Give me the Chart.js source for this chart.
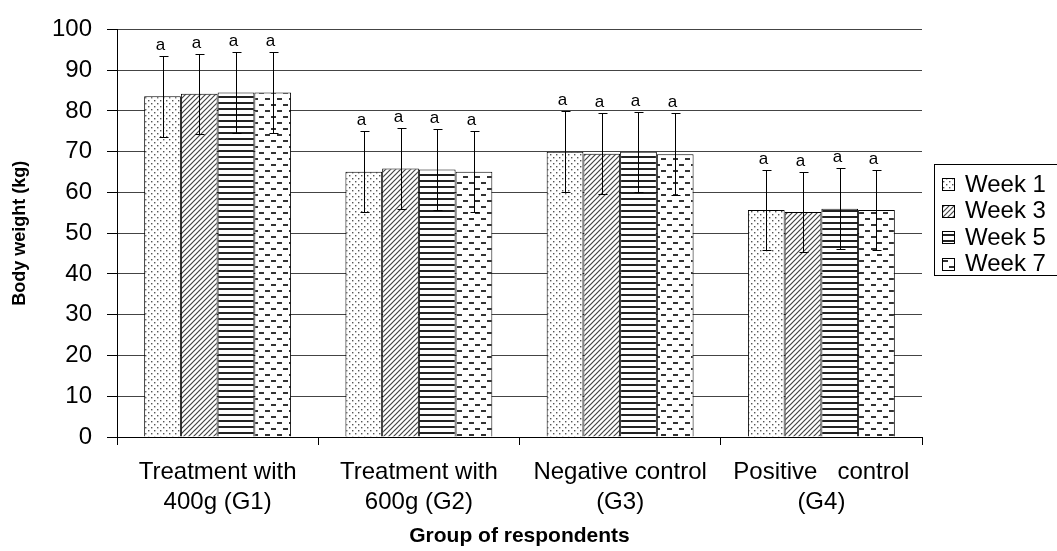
<!DOCTYPE html>
<html>
<head>
<meta charset="utf-8">
<script src="https://cdn.jsdelivr.net/npm/chart.js@4.4.0/dist/chart.umd.min.js"></script>
<style>
  html, body { margin: 0; padding: 0; background: #fff; }
  #wrap { width: 1057px; height: 551px; }
</style>
</head>
<body>
<div id="wrap"><canvas id="weightChart" width="1057" height="551"></canvas></div>
<script>
const categories = [
  ['Treatment with', '400g (G1)'],
  ['Treatment with', '600g (G2)'],
  ['Negative control', '(G3)'],
  ['Positive   control', '(G4)']
];
const weekNames = ['Week 1', 'Week 3', 'Week 5', 'Week 7'];
const week1 = [83.6, 65.1, 70.0, 55.7];
const week3 = [84.2, 65.9, 69.5, 55.2];
const week5 = [84.5, 65.6, 70.0, 56.0];
const week7 = [84.5, 65.1, 69.4, 55.7];
const sd1 = [9.9, 9.9, 9.9, 9.9];
const sd3 = [9.8, 9.9, 9.9, 9.9];
const sd5 = [9.9, 10.0, 9.8, 9.9];
const sd7 = [9.9, 9.9, 10.0, 9.9];
const sigLetters = ['a', 'a', 'a', 'a'];
const yTicks = [0, 10, 20, 30, 40, 50, 60, 70, 80, 90, 100];

const FONT = "'Liberation Sans', Arial, sans-serif";

// small tiles for the black & white fills
function makePattern(kind) {
  const c = document.createElement('canvas');
  const g = c.getContext('2d');
  if (kind === 'dots') {
    c.width = 6; c.height = 6;
    g.fillStyle = '#fff'; g.fillRect(0, 0, 6, 6);
    g.fillStyle = '#555';
    g.fillRect(1, 1, 1.4, 1.4);
    g.fillRect(4, 4, 1.4, 1.4);
  } else if (kind === 'diag') {
    c.width = 5; c.height = 5;
    g.fillStyle = '#fff'; g.fillRect(0, 0, 5, 5);
    g.strokeStyle = '#444'; g.lineWidth = 1.2;
    g.beginPath();
    g.moveTo(-1, 6); g.lineTo(6, -1);
    g.moveTo(-1, 1); g.lineTo(1, -1);
    g.moveTo(4, 6); g.lineTo(6, 4);
    g.stroke();
  } else if (kind === 'hlines') {
    c.width = 4; c.height = 6;
    g.fillStyle = '#fff'; g.fillRect(0, 0, 4, 6);
    g.fillStyle = '#222';
    g.fillRect(0, 0, 4, 2);
  } else {
    c.width = 12; c.height = 12;
    g.fillStyle = '#fff'; g.fillRect(0, 0, 12, 12);
    g.fillStyle = '#333';
    g.fillRect(1, 2, 5, 2);
    g.fillRect(7, 8, 5, 2);
  }
  return document.getElementById('weightChart').getContext('2d').createPattern(c, 'repeat');
}

const fills = [makePattern('dots'), makePattern('diag'), makePattern('hlines'), makePattern('dashes')];
const seriesValues = [week1, week3, week5, week7];
const seriesSd = [sd1, sd3, sd5, sd7];

const errorBars = {
  id: 'errorBars',
  afterDatasetsDraw(chart) {
    const ctx = chart.ctx;
    const y = chart.scales.y;
    ctx.save();
    ctx.strokeStyle = '#000';
    ctx.lineWidth = 1;
    ctx.fillStyle = '#000';
    ctx.font = '17px ' + FONT;
    ctx.textAlign = 'center';
    ctx.textBaseline = 'alphabetic';
    chart.data.datasets.forEach((ds, i) => {
      const meta = chart.getDatasetMeta(i);
      meta.data.forEach((bar, j) => {
        const v = ds.data[j];
        const sd = seriesSd[i][j];
        const top = Math.round(y.getPixelForValue(v + sd)) + 0.5;
        const bot = Math.round(y.getPixelForValue(v - sd)) + 0.5;
        const x = Math.round(bar.x) + 0.5;
        ctx.beginPath();
        ctx.moveTo(x, top); ctx.lineTo(x, bot);
        ctx.moveTo(x - 4, top); ctx.lineTo(x + 5, top);
        ctx.moveTo(x - 4, bot); ctx.lineTo(x + 5, bot);
        ctx.stroke();
        ctx.fillText(sigLetters[j], x - 3, top - 7);
      });
    });
    ctx.restore();
  }
};

const boxLegend = {
  id: 'boxLegend',
  afterDraw(chart) {
    const ctx = chart.ctx;
    ctx.save();
    ctx.strokeStyle = '#000';
    ctx.lineWidth = 1;
    ctx.strokeRect(934.5, 164.5, 130, 111);
    ctx.font = '24px ' + FONT;
    ctx.textBaseline = 'middle';
    ctx.textAlign = 'left';
    weekNames.forEach((name, i) => {
      const cy = 184 + i * 26.5;
      ctx.fillStyle = fills[i];
      ctx.fillRect(942, Math.round(cy - 6), 12, 12);
      ctx.strokeRect(942.5, Math.round(cy - 6) + 0.5, 12, 12);
      ctx.fillStyle = '#000';
      ctx.fillText(name, 965, cy + 1);
    });
    ctx.restore();
  }
};

const chart = new Chart(document.getElementById('weightChart'), {
  type: 'bar',
  data: {
    labels: categories,
    datasets: seriesValues.map((vals, i) => ({
      label: weekNames[i],
      data: vals,
      backgroundColor: fills[i],
      borderColor: '#000',
      borderWidth: 1,
      categoryPercentage: 0.73,
      barPercentage: 1.0
    }))
  },
  options: {
    responsive: false,
    animation: false,
    devicePixelRatio: 1,
    layout: { padding: { top: 22, right: 135, left: 0, bottom: 0 } },
    plugins: {
      legend: { display: false },
      tooltip: { enabled: false }
    },
    scales: {
      x: {
        offset: true,
        grid: { offset: true, drawOnChartArea: false, tickLength: 8, color: '#000' },
        border: { color: '#000', width: 1 },
        ticks: { color: '#000', font: { family: FONT, size: 24, lineHeight: 1.25 }, padding: 12, maxRotation: 0, autoSkip: false },
        title: { display: true, text: 'Group of respondents', color: '#000', font: { family: FONT, size: 21, weight: 'bold' }, padding: { top: 4, bottom: 2 } },
        afterFit(scale) { scale.height = 114; }
      },
      y: {
        min: 0,
        max: 100,
        afterBuildTicks(scale) { scale.ticks = yTicks.map(v => ({ value: v })); },
        grid: { color: '#444', tickColor: '#000', tickLength: 10 },
        border: { color: '#000', width: 1 },
        ticks: { color: '#000', font: { family: FONT, size: 24 }, padding: 15 },
        title: { display: true, text: 'Body weight (kg)', color: '#000', font: { family: FONT, size: 18, weight: 'bold' }, padding: { top: 9, bottom: 4 } },
        afterFit(scale) { scale.width = 117; }
      }
    }
  },
  plugins: [errorBars, boxLegend]
});
</script>
</body>
</html>
